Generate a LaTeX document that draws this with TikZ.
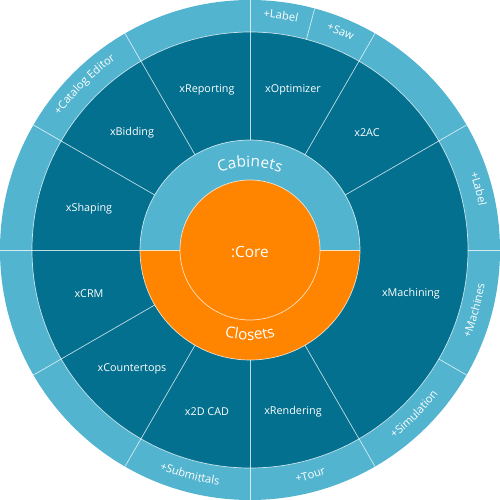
\documentclass[tikz,border=0pt]{standalone}
\usepackage{fontspec}
\setmainfont{Open Sans}
\usetikzlibrary{decorations.text}

\definecolor{moduledark}{HTML}{03708F}
\definecolor{bandlight}{HTML}{52B4CF}
\definecolor{coreorange}{HTML}{FF8400}

\newcommand{\bandfont}{\fontsize{5.6}{6.5}\selectfont}
\newcommand{\modfont}{\fontsize{5.4}{6.5}\selectfont}
\newcommand{\corefont}{\fontsize{7.7}{9}\selectfont}

\begin{document}
\begin{tikzpicture}[x=0.5pt, y=0.5pt,
    seglabel/.style={font=\modfont, text=white, inner sep=1pt},
    divider/.style={white, line width=0.35pt, opacity=0.75},
    bandtext/.style={decorate, decoration={text along path, text align=center,
                     text color=white, text={|\bandfont|#1}}},
    coretext/.style={decorate, decoration={text along path, text align=center,
                     text color=white, text={|\corefont|#1}}},
]
\useasboundingbox (-250,-250) rectangle (250,250);

% --- Outer band ---
\fill[bandlight] (0,0) circle[radius=250];

% --- Module ring ---
\fill[moduledark] (0,0) circle[radius=218];
\draw[divider] (0,0) circle[radius=218];

% --- Cabinets / Closets ---
\fill[bandlight] (0:110) arc[start angle=0, end angle=180, radius=110] -- cycle;
\fill[coreorange] (180:110) arc[start angle=180, end angle=360, radius=110] -- cycle;
\draw[divider] (0,0) circle[radius=110];
\draw[divider] (180:70) -- (180:110) (0:70) -- (0:110);

% --- Core ---
\fill[coreorange] (0,0) circle[radius=70];
\draw[divider] (0,0) circle[radius=70];
\node[font=\corefont, text=white] (core) at (0,-2) {:Core};

% --- Dividers ---
\foreach \a in {30,60,...,300}
  \draw[divider] (\a:110) -- (\a:250);
\foreach \a in {0,75,330}
  \draw[divider] (\a:218) -- (\a:250);

% --- Module labels ---
\foreach \p/\t [count=\i] in {(-43,160)/xReporting, (43,160)/xOptimizer,
    (-118,117)/xBidding, (117,117)/x2AC, (-161,41)/xShaping,
    (-161,-44)/xCRM, (-118,-119)/xCountertops, (-43,-162)/x2D CAD,
    (43,-162)/xRendering, (161,-44)/xMachining}
  \node[seglabel] (mod\i) at \p {\t};

% --- Cabinets / Closets labels ---
\path[coretext=Cabinets] (180:83) arc[start angle=180, end angle=0, radius=83];
\path[coretext=Closets] (180:90) arc[start angle=180, end angle=360, radius=90];

% --- Band labels ---
\path[bandtext=+Label] (90:233) arc[start angle=90, end angle=75, radius=233];
\path[bandtext=+Saw] (75:233) arc[start angle=75, end angle=60, radius=233];
\path[bandtext=+Label] (30:233) arc[start angle=30, end angle=0, radius=233];
\path[bandtext=+Catalog Editor] (150:233) arc[start angle=150, end angle=120, radius=233];
\path[bandtext=+Machines] (-30:237) arc[start angle=-30, end angle=0, radius=237];
\path[bandtext=+Simulation] (-60:237) arc[start angle=-60, end angle=-30, radius=237];
\path[bandtext=+Tour] (-90:237) arc[start angle=-90, end angle=-60, radius=237];
\path[bandtext=+Submittals] (240:237) arc[start angle=240, end angle=270, radius=237];

\end{tikzpicture}
\end{document}
